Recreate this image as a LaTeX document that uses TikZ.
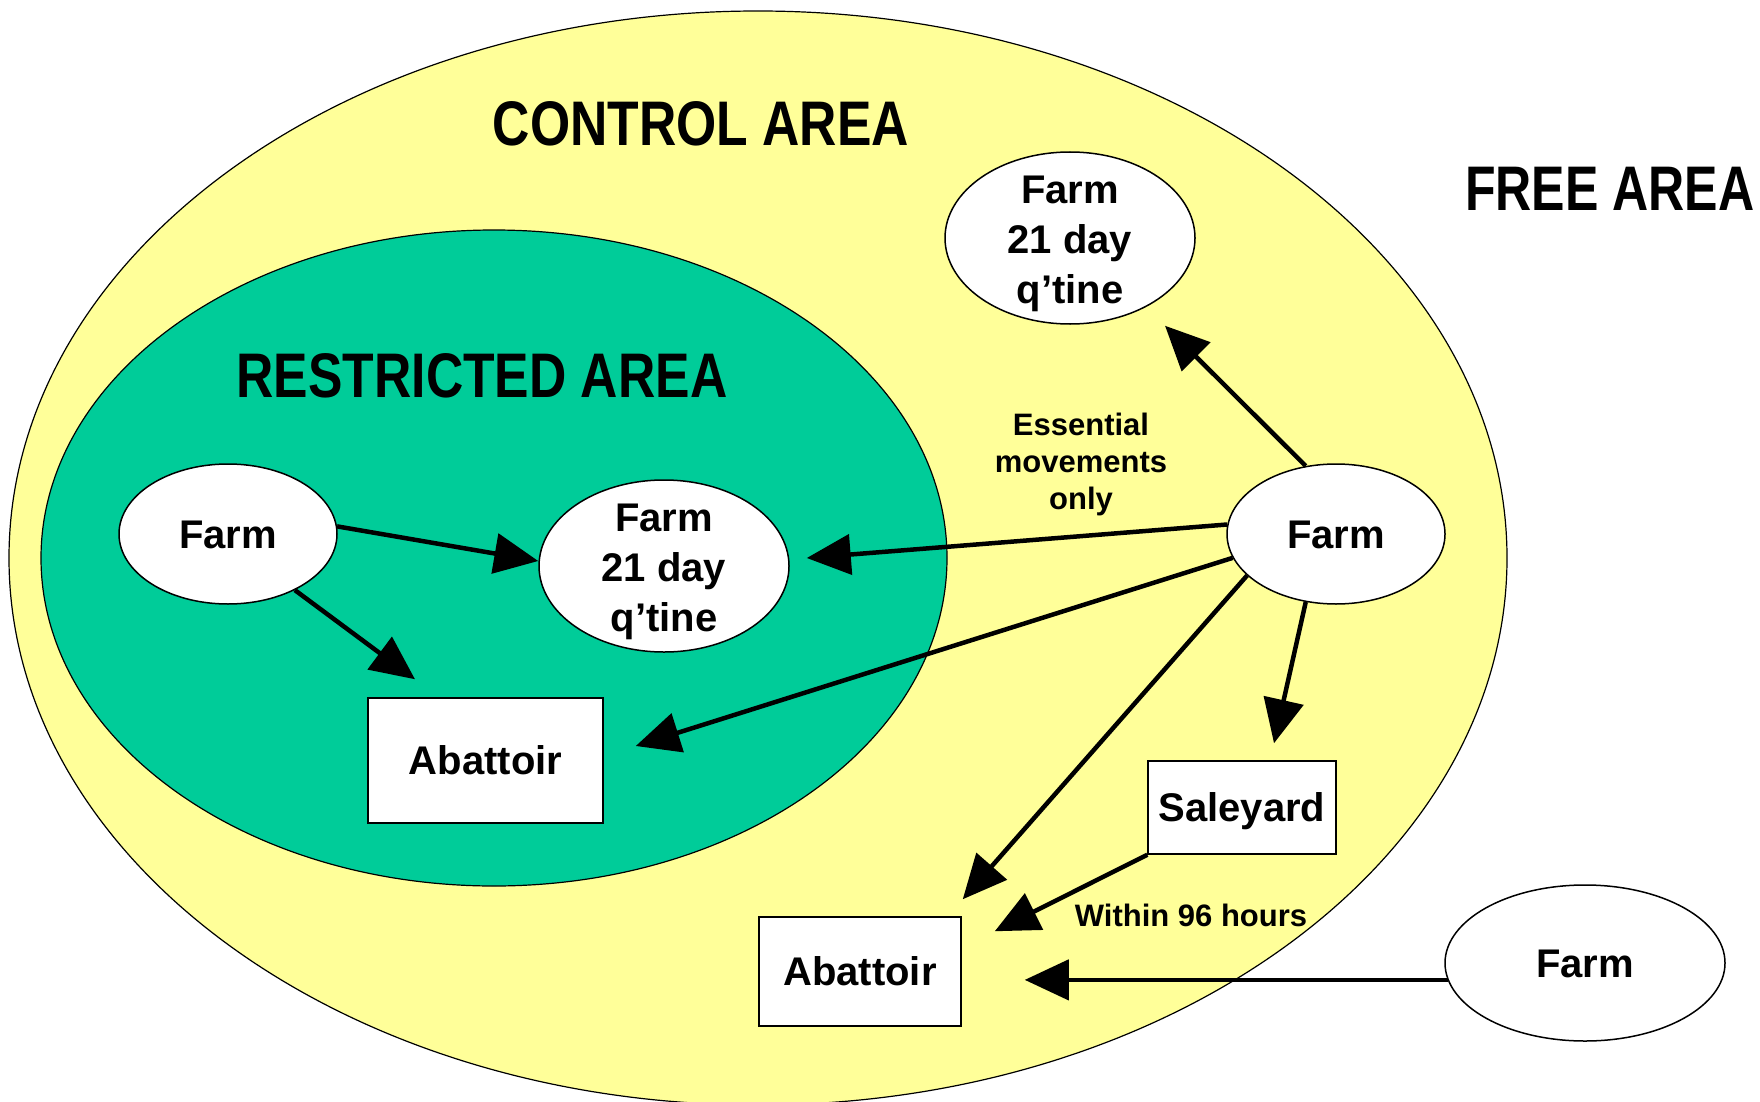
\documentclass[tikz,border=0pt]{standalone}
\usepackage{fontspec}
\setmainfont{Liberation Sans}
\usetikzlibrary{arrows.meta,shapes.geometric,calc}
\definecolor{ctrlyellow}{RGB}{255,255,153}
\definecolor{restgreen}{RGB}{0,204,153}
\begin{document}
\begin{tikzpicture}[x=1pt,y=-1pt,
  farmnode/.style={ellipse,draw=black,line width=1.5pt,fill=white,inner sep=0pt,
    text height=28.6pt,text depth=0pt,
    font=\bfseries\fontsize{40}{50}\selectfont},
  boxnode/.style={rectangle,draw=black,line width=1.5pt,fill=white,inner sep=0pt,
    text height=28.6pt,text depth=0pt,
    font=\bfseries\fontsize{40}{50}\selectfont},
  lbl/.style={font=\bfseries\fontsize{40}{50}\selectfont,align=center,inner sep=0pt},
  smalllbl/.style={font=\bfseries\fontsize{31}{37}\selectfont,align=center,inner sep=0pt},
  areatitle/.style={font=\bfseries\fontsize{63}{70}\selectfont,inner sep=0pt},
  arr/.style={line width=4.5pt,-{Triangle[length=44pt,width=40pt]}}]
\useasboundingbox (0,0) rectangle (1760,1102);
\clip (0,0) rectangle (1760,1102);
\fill[white] (0,0) rectangle (1760,1102);
% areas
\draw[fill=ctrlyellow,line width=1.2pt] (758,558) ellipse [x radius=749, y radius=547];
\draw[fill=restgreen,line width=1.2pt] (494,558) ellipse [x radius=453, y radius=328];
% titles
\node[areatitle,anchor=base] (tctrl) at (701,146) {\scalebox{0.82}[1]{CONTROL AREA}};
\node[areatitle,anchor=base] (trest) at (482,397) {\scalebox{0.82}[1]{RESTRICTED AREA}};
\node[areatitle,anchor=base west] (tfree) at (1465,210) {\scalebox{0.795}[1]{FREE AREA}};
% nodes
\node[farmnode,minimum width=218pt,minimum height=140pt] (farmA) at (228,534) {Farm};
\node[farmnode,minimum width=250pt,minimum height=172pt] (qA) at (664,566) {};
\node[lbl] (qAt) at ([shift={(0,6)}]qA.center) {Farm\\21 day\\q’tine};
\node[boxnode,minimum width=235pt,minimum height=125pt] (abA) at (485.5,760.5) {Abattoir};
\node[farmnode,minimum width=250pt,minimum height=172pt] (qB) at (1070,238) {};
\node[lbl] (qBt) at ([shift={(0,6)}]qB.center) {Farm\\21 day\\q’tine};
\node[farmnode,minimum width=218pt,minimum height=140pt] (farmB) at (1336,534) {Farm};
\node[boxnode,minimum width=188pt,minimum height=93pt] (sale) at (1242,807.5) {Saleyard};
\node[boxnode,minimum width=202pt,minimum height=109pt] (abB) at (860,971.5) {Abattoir};
\node[farmnode,minimum width=280pt,minimum height=156pt] (farmC) at (1585,963) {Farm};
% labels
\node[smalllbl] (ess) at (1081,464) {Essential\\movements\\only};
\node[smalllbl] (w96) at (1191,915) {Within 96 hours};
% arrows
\draw[arr] (farmA.4) -- ([shift={(0,-5)}]qA.west);
\draw[arr] (farmA.-40) -- ([shift={(-70.5,-18)}]abA.north);
\draw[arr] (farmB.175) -- ([shift={(17,-8)}]qA.east);
\draw[arr] (farmB.193) -- ([shift={(32,-14.5)}]abA.east);
\draw[arr] (farmB.114) -- ([shift={(95,1)}]qB.south);
\draw[arr] (farmB.205) -- ([shift={(1,-17)}]abB.north east);
\draw[arr] (farmB.246) -- ([shift={(32,-17)}]sale.north);
\draw[arr] (sale.south west) -- ([shift={(33,15)}]abB.north east);
\coordinate (c9) at (farmC.187 -| abB.east);
\draw[arr] (farmC.187) -- ([shift={(63,0)}]c9);
\end{tikzpicture}
\end{document}
